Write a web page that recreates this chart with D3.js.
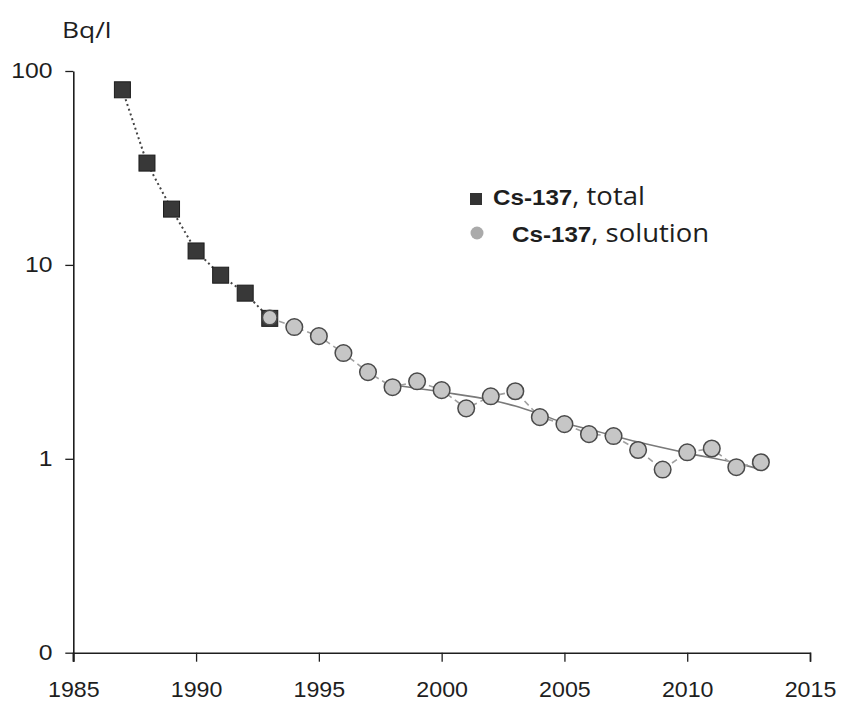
<!DOCTYPE html>
<html>
<head>
<meta charset="utf-8">
<script src="https://cdn.jsdelivr.net/npm/d3@7"></script>
<style>
  html, body { margin: 0; padding: 0; background: #fff; }
  svg { display: block; }
</style>
</head>
<body>
<svg id="chart" width="842" height="702"></svg>
<script>
// ---- data ----
const totalYears  = [1987, 1988, 1989, 1990, 1991, 1992, 1993];
const totalValues = [80, 33.5, 19.4, 11.8, 8.85, 7.15, 5.3];

const solutionYears  = [1993, 1994, 1995, 1996, 1997, 1998, 1999, 2000, 2001, 2002, 2003,
                        2004, 2005, 2006, 2007, 2008, 2009, 2010, 2011, 2012, 2013];
const solutionValues = [5.35, 4.78, 4.29, 3.51, 2.80, 2.34, 2.51, 2.26, 1.82, 2.10, 2.23,
                        1.64, 1.51, 1.34, 1.31, 1.11, 0.88, 1.08, 1.13, 0.905, 0.96];

const trendYears  = [1998, 2000, 2002, 2003, 2004, 2005, 2006, 2008, 2010, 2012, 2013];
const trendValues = [2.40, 2.21, 2.01, 1.87, 1.70, 1.53, 1.42, 1.22, 1.07, 0.95, 0.88];

const xTickValues = [1985, 1990, 1995, 2000, 2005, 2010, 2015];
const yTickValues = [100, 10, 1, 0.1];
const yTickLabels = ["100", "10", "1", "0"];

const unitLabel = "Bq/l";
const legendBold = ["Cs-137", "Cs-137"];
const legendRest = [", total", ", solution"];

// ---- layout ----
const svg = d3.select("#chart");
const x = d3.scaleLinear().domain([1985, 2015]).range([73.3, 810]);
const y = d3.scaleLog().domain([0.1, 100]).range([652.7, 71]);
const ink = "#1e1e1e";

// axes
const gx = svg.append("g")
  .attr("transform", `translate(0,${y(0.1)})`)
  .call(d3.axisBottom(x).tickValues(xTickValues).tickFormat(d3.format("d"))
        .tickSize(9).tickSizeOuter(9).tickPadding(20));
const gy = svg.append("g")
  .attr("transform", `translate(${x(1985)},0)`)
  .call(d3.axisLeft(y).tickValues(yTickValues)
        .tickFormat(d => yTickLabels[yTickValues.indexOf(d)])
        .tickSize(8).tickSizeOuter(0).tickPadding(10));

[gx, gy].forEach(g => {
  g.selectAll("path.domain").attr("stroke", ink).attr("stroke-width", 1.6);
  g.selectAll(".tick line").attr("stroke", ink).attr("stroke-width", 1.3);
  g.selectAll(".tick text")
    .attr("fill", ink)
    .style("font-family", "'Liberation Sans', Arial, sans-serif")
    .style("font-size", "21.5px");
});
gx.selectAll(".tick text").attr("transform", "scale(1.08,1)");
gy.selectAll(".tick text").attr("transform", "scale(1.15,1)");
// y axis extends below x axis (1985 tick)
gy.append("line").attr("x1", 0).attr("x2", 0).attr("y1", y(0.1)).attr("y2", y(0.1) + 9)
  .attr("stroke", ink).attr("stroke-width", 1.6);

// unit label
svg.append("text")
  .attr("transform", "translate(62,38) scale(1.2,1)")
  .attr("fill", ink)
  .style("font-family", "'Open Sans', sans-serif")
  .style("font-size", "22px")
  .text(unitLabel);

// lines
const totalPts = totalYears.map((t, i) => [t, totalValues[i]]);
const solPts = solutionYears.map((t, i) => [t, solutionValues[i]]);
const trendPts = trendYears.map((t, i) => [t, trendValues[i]]);

svg.append("path")
  .attr("d", d3.line().x(d => x(d[0])).y(d => y(d[1])).curve(d3.curveMonotoneX)(trendPts))
  .attr("fill", "none").attr("stroke", "#7a7a7a").attr("stroke-width", 1.6);
svg.append("path").attr("d", d3.line().x(d => x(d[0])).y(d => y(d[1]))(solPts))
  .attr("fill", "none").attr("stroke", "#a0a0a0").attr("stroke-width", 1.6)
  .attr("stroke-dasharray", "6,4");
svg.append("path").attr("d", d3.line().x(d => x(d[0])).y(d => y(d[1]))(totalPts))
  .attr("fill", "none").attr("stroke", "#444").attr("stroke-width", 2)
  .attr("stroke-dasharray", "2,3");

// markers
const sq = 16;
svg.append("g").selectAll("rect").data(totalPts).join("rect")
  .attr("x", d => x(d[0]) - sq / 2).attr("y", d => y(d[1]) - sq / 2)
  .attr("width", sq).attr("height", sq)
  .attr("fill", "#383838").attr("stroke", "#1c1c1c").attr("stroke-width", 1);

svg.append("g").selectAll("circle").data(solPts).join("circle")
  .attr("cx", d => x(d[0])).attr("cy", d => y(d[1]))
  .attr("r", (d, i) => i === 0 ? 7.3 : 8.3)
  .attr("fill", "#c6c6c6").attr("stroke", "#4a4a4a").attr("stroke-width", 1.5);

// legend
const leg = svg.append("g");
leg.append("rect").attr("x", 470).attr("y", 193).attr("width", 12).attr("height", 12)
  .attr("fill", "#333");
leg.append("circle").attr("cx", 477).attr("cy", 233).attr("r", 6.5).attr("fill", "#aaa");
const legPos = [[493, 205], [512, 242]];
legendBold.forEach((b, i) => {
  const t = leg.append("text")
    .attr("transform", `translate(${legPos[i][0]},${legPos[i][1]}) scale(1.1,1)`)
    .attr("fill", ink);
  t.append("tspan").style("font-family", "'Liberation Sans', Arial, sans-serif")
    .style("font-weight", "bold").style("font-size", "22px").text(b);
  t.append("tspan").style("font-family", "'Open Sans', sans-serif")
    .style("font-size", "25px").text(legendRest[i]);
});
</script>
</body>
</html>
